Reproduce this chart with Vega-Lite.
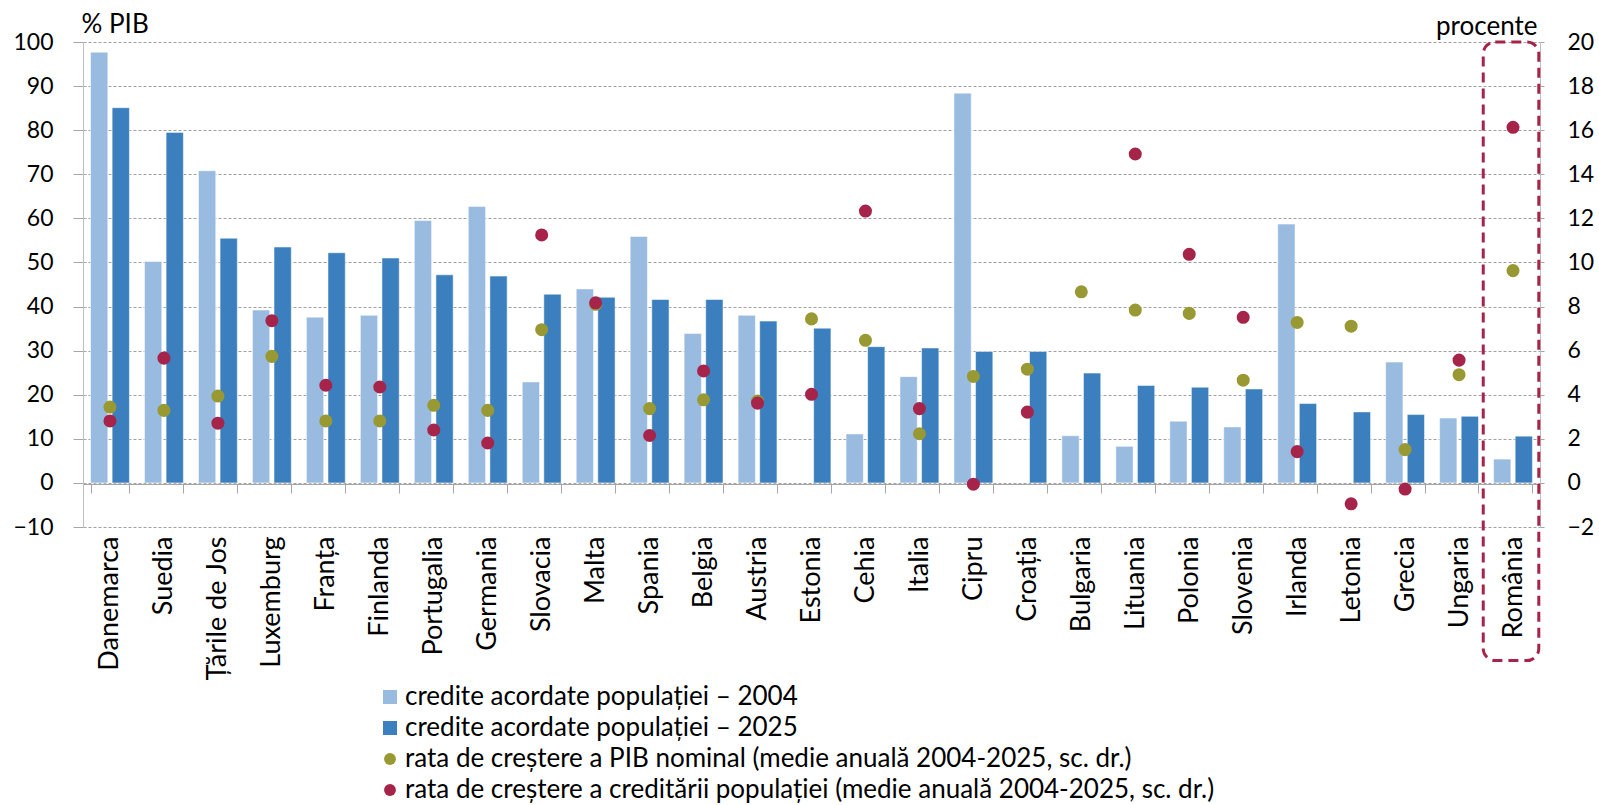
{
  "$schema": "https://vega.github.io/schema/vega-lite/v6.json",
  "autosize": "none",
  "width": 1457,
  "height": 485,
  "padding": {"left": 83, "top": 42, "right": 59, "bottom": 278},
  "config": {
    "view": {"stroke": null},
    "font": "Lato",
    "axis": {"labelFont": "Lato", "titleFont": "Lato", "labelColor": "#000000", "titleColor": "#000000", "titleFontWeight": "normal"},
    "legend": {"labelFont": "Lato", "labelColor": "#000000"}
  },
  "datasets": {
    "bars": [
      {"tara": "Danemarca", "serie": "credite acordate populației – 2004", "valoare": 97.7},
      {"tara": "Suedia", "serie": "credite acordate populației – 2004", "valoare": 50.2},
      {"tara": "Țările de Jos", "serie": "credite acordate populației – 2004", "valoare": 70.8},
      {"tara": "Luxemburg", "serie": "credite acordate populației – 2004", "valoare": 39.2},
      {"tara": "Franța", "serie": "credite acordate populației – 2004", "valoare": 37.6},
      {"tara": "Finlanda", "serie": "credite acordate populației – 2004", "valoare": 38.0},
      {"tara": "Portugalia", "serie": "credite acordate populației – 2004", "valoare": 59.5},
      {"tara": "Germania", "serie": "credite acordate populației – 2004", "valoare": 62.7},
      {"tara": "Slovacia", "serie": "credite acordate populației – 2004", "valoare": 22.9},
      {"tara": "Malta", "serie": "credite acordate populației – 2004", "valoare": 44.0},
      {"tara": "Spania", "serie": "credite acordate populației – 2004", "valoare": 55.9},
      {"tara": "Belgia", "serie": "credite acordate populației – 2004", "valoare": 33.9},
      {"tara": "Austria", "serie": "credite acordate populației – 2004", "valoare": 38.0},
      {"tara": "Cehia", "serie": "credite acordate populației – 2004", "valoare": 11.1},
      {"tara": "Italia", "serie": "credite acordate populației – 2004", "valoare": 24.1},
      {"tara": "Cipru", "serie": "credite acordate populației – 2004", "valoare": 88.4},
      {"tara": "Bulgaria", "serie": "credite acordate populației – 2004", "valoare": 10.7},
      {"tara": "Lituania", "serie": "credite acordate populației – 2004", "valoare": 8.3},
      {"tara": "Polonia", "serie": "credite acordate populației – 2004", "valoare": 14.0},
      {"tara": "Slovenia", "serie": "credite acordate populației – 2004", "valoare": 12.7},
      {"tara": "Irlanda", "serie": "credite acordate populației – 2004", "valoare": 58.7},
      {"tara": "Grecia", "serie": "credite acordate populației – 2004", "valoare": 27.4},
      {"tara": "Ungaria", "serie": "credite acordate populației – 2004", "valoare": 14.7},
      {"tara": "România", "serie": "credite acordate populației – 2004", "valoare": 5.4},
      {"tara": "Danemarca", "serie": "credite acordate populației – 2025", "valoare": 85.1},
      {"tara": "Suedia", "serie": "credite acordate populației – 2025", "valoare": 79.5},
      {"tara": "Țările de Jos", "serie": "credite acordate populației – 2025", "valoare": 55.5},
      {"tara": "Luxemburg", "serie": "credite acordate populației – 2025", "valoare": 53.5},
      {"tara": "Franța", "serie": "credite acordate populației – 2025", "valoare": 52.2},
      {"tara": "Finlanda", "serie": "credite acordate populației – 2025", "valoare": 51.0},
      {"tara": "Portugalia", "serie": "credite acordate populației – 2025", "valoare": 47.2},
      {"tara": "Germania", "serie": "credite acordate populației – 2025", "valoare": 46.9},
      {"tara": "Slovacia", "serie": "credite acordate populației – 2025", "valoare": 42.8},
      {"tara": "Malta", "serie": "credite acordate populației – 2025", "valoare": 42.1},
      {"tara": "Spania", "serie": "credite acordate populației – 2025", "valoare": 41.6},
      {"tara": "Belgia", "serie": "credite acordate populației – 2025", "valoare": 41.6},
      {"tara": "Austria", "serie": "credite acordate populației – 2025", "valoare": 36.7},
      {"tara": "Estonia", "serie": "credite acordate populației – 2025", "valoare": 35.1},
      {"tara": "Cehia", "serie": "credite acordate populației – 2025", "valoare": 30.9},
      {"tara": "Italia", "serie": "credite acordate populației – 2025", "valoare": 30.6},
      {"tara": "Cipru", "serie": "credite acordate populației – 2025", "valoare": 29.8},
      {"tara": "Croația", "serie": "credite acordate populației – 2025", "valoare": 29.8},
      {"tara": "Bulgaria", "serie": "credite acordate populației – 2025", "valoare": 24.9},
      {"tara": "Lituania", "serie": "credite acordate populației – 2025", "valoare": 22.1},
      {"tara": "Polonia", "serie": "credite acordate populației – 2025", "valoare": 21.7},
      {"tara": "Slovenia", "serie": "credite acordate populației – 2025", "valoare": 21.3},
      {"tara": "Irlanda", "serie": "credite acordate populației – 2025", "valoare": 18.0},
      {"tara": "Letonia", "serie": "credite acordate populației – 2025", "valoare": 16.1},
      {"tara": "Grecia", "serie": "credite acordate populației – 2025", "valoare": 15.5},
      {"tara": "Ungaria", "serie": "credite acordate populației – 2025", "valoare": 15.1},
      {"tara": "România", "serie": "credite acordate populației – 2025", "valoare": 10.6}
    ],
    "dots": [
      {"tara": "Danemarca", "serie": "rata de creștere a PIB nominal (medie anuală 2004-2025, sc. dr.)", "valoare": 3.44},
      {"tara": "Suedia", "serie": "rata de creștere a PIB nominal (medie anuală 2004-2025, sc. dr.)", "valoare": 3.29},
      {"tara": "Țările de Jos", "serie": "rata de creștere a PIB nominal (medie anuală 2004-2025, sc. dr.)", "valoare": 3.94},
      {"tara": "Luxemburg", "serie": "rata de creștere a PIB nominal (medie anuală 2004-2025, sc. dr.)", "valoare": 5.74},
      {"tara": "Franța", "serie": "rata de creștere a PIB nominal (medie anuală 2004-2025, sc. dr.)", "valoare": 2.81},
      {"tara": "Finlanda", "serie": "rata de creștere a PIB nominal (medie anuală 2004-2025, sc. dr.)", "valoare": 2.81},
      {"tara": "Portugalia", "serie": "rata de creștere a PIB nominal (medie anuală 2004-2025, sc. dr.)", "valoare": 3.52},
      {"tara": "Germania", "serie": "rata de creștere a PIB nominal (medie anuală 2004-2025, sc. dr.)", "valoare": 3.29},
      {"tara": "Slovacia", "serie": "rata de creștere a PIB nominal (medie anuală 2004-2025, sc. dr.)", "valoare": 6.95},
      {"tara": "Malta", "serie": "rata de creștere a PIB nominal (medie anuală 2004-2025, sc. dr.)", "valoare": 8.1},
      {"tara": "Spania", "serie": "rata de creștere a PIB nominal (medie anuală 2004-2025, sc. dr.)", "valoare": 3.37},
      {"tara": "Belgia", "serie": "rata de creștere a PIB nominal (medie anuală 2004-2025, sc. dr.)", "valoare": 3.77},
      {"tara": "Austria", "serie": "rata de creștere a PIB nominal (medie anuală 2004-2025, sc. dr.)", "valoare": 3.71},
      {"tara": "Estonia", "serie": "rata de creștere a PIB nominal (medie anuală 2004-2025, sc. dr.)", "valoare": 7.44},
      {"tara": "Cehia", "serie": "rata de creștere a PIB nominal (medie anuală 2004-2025, sc. dr.)", "valoare": 6.47},
      {"tara": "Italia", "serie": "rata de creștere a PIB nominal (medie anuală 2004-2025, sc. dr.)", "valoare": 2.23},
      {"tara": "Cipru", "serie": "rata de creștere a PIB nominal (medie anuală 2004-2025, sc. dr.)", "valoare": 4.83},
      {"tara": "Croația", "serie": "rata de creștere a PIB nominal (medie anuală 2004-2025, sc. dr.)", "valoare": 5.16},
      {"tara": "Bulgaria", "serie": "rata de creștere a PIB nominal (medie anuală 2004-2025, sc. dr.)", "valoare": 8.67},
      {"tara": "Lituania", "serie": "rata de creștere a PIB nominal (medie anuală 2004-2025, sc. dr.)", "valoare": 7.84},
      {"tara": "Polonia", "serie": "rata de creștere a PIB nominal (medie anuală 2004-2025, sc. dr.)", "valoare": 7.69},
      {"tara": "Slovenia", "serie": "rata de creștere a PIB nominal (medie anuală 2004-2025, sc. dr.)", "valoare": 4.66},
      {"tara": "Irlanda", "serie": "rata de creștere a PIB nominal (medie anuală 2004-2025, sc. dr.)", "valoare": 7.28},
      {"tara": "Letonia", "serie": "rata de creștere a PIB nominal (medie anuală 2004-2025, sc. dr.)", "valoare": 7.11},
      {"tara": "Grecia", "serie": "rata de creștere a PIB nominal (medie anuală 2004-2025, sc. dr.)", "valoare": 1.51},
      {"tara": "Ungaria", "serie": "rata de creștere a PIB nominal (medie anuală 2004-2025, sc. dr.)", "valoare": 4.91},
      {"tara": "România", "serie": "rata de creștere a PIB nominal (medie anuală 2004-2025, sc. dr.)", "valoare": 9.63},
      {"tara": "Danemarca", "serie": "rata de creștere a creditării populației (medie anuală 2004-2025, sc. dr.)", "valoare": 2.81},
      {"tara": "Suedia", "serie": "rata de creștere a creditării populației (medie anuală 2004-2025, sc. dr.)", "valoare": 5.66},
      {"tara": "Țările de Jos", "serie": "rata de creștere a creditării populației (medie anuală 2004-2025, sc. dr.)", "valoare": 2.71},
      {"tara": "Luxemburg", "serie": "rata de creștere a creditării populației (medie anuală 2004-2025, sc. dr.)", "valoare": 7.36},
      {"tara": "Franța", "serie": "rata de creștere a creditării populației (medie anuală 2004-2025, sc. dr.)", "valoare": 4.43},
      {"tara": "Finlanda", "serie": "rata de creștere a creditării populației (medie anuală 2004-2025, sc. dr.)", "valoare": 4.35},
      {"tara": "Portugalia", "serie": "rata de creștere a creditării populației (medie anuală 2004-2025, sc. dr.)", "valoare": 2.40},
      {"tara": "Germania", "serie": "rata de creștere a creditării populației (medie anuală 2004-2025, sc. dr.)", "valoare": 1.81},
      {"tara": "Slovacia", "serie": "rata de creștere a creditării populației (medie anuală 2004-2025, sc. dr.)", "valoare": 11.25},
      {"tara": "Malta", "serie": "rata de creștere a creditării populației (medie anuală 2004-2025, sc. dr.)", "valoare": 8.17},
      {"tara": "Spania", "serie": "rata de creștere a creditării populației (medie anuală 2004-2025, sc. dr.)", "valoare": 2.15},
      {"tara": "Belgia", "serie": "rata de creștere a creditării populației (medie anuală 2004-2025, sc. dr.)", "valoare": 5.08},
      {"tara": "Austria", "serie": "rata de creștere a creditării populației (medie anuală 2004-2025, sc. dr.)", "valoare": 3.62},
      {"tara": "Estonia", "serie": "rata de creștere a creditării populației (medie anuală 2004-2025, sc. dr.)", "valoare": 4.02},
      {"tara": "Cehia", "serie": "rata de creștere a creditării populației (medie anuală 2004-2025, sc. dr.)", "valoare": 12.33},
      {"tara": "Italia", "serie": "rata de creștere a creditării populației (medie anuală 2004-2025, sc. dr.)", "valoare": 3.37},
      {"tara": "Cipru", "serie": "rata de creștere a creditării populației (medie anuală 2004-2025, sc. dr.)", "valoare": -0.06},
      {"tara": "Croația", "serie": "rata de creștere a creditării populației (medie anuală 2004-2025, sc. dr.)", "valoare": 3.21},
      {"tara": "Lituania", "serie": "rata de creștere a creditării populației (medie anuală 2004-2025, sc. dr.)", "valoare": 14.92},
      {"tara": "Polonia", "serie": "rata de creștere a creditării populației (medie anuală 2004-2025, sc. dr.)", "valoare": 10.37},
      {"tara": "Slovenia", "serie": "rata de creștere a creditării populației (medie anuală 2004-2025, sc. dr.)", "valoare": 7.51},
      {"tara": "Irlanda", "serie": "rata de creștere a creditării populației (medie anuală 2004-2025, sc. dr.)", "valoare": 1.42},
      {"tara": "Letonia", "serie": "rata de creștere a creditării populației (medie anuală 2004-2025, sc. dr.)", "valoare": -0.95},
      {"tara": "Grecia", "serie": "rata de creștere a creditării populației (medie anuală 2004-2025, sc. dr.)", "valoare": -0.28},
      {"tara": "Ungaria", "serie": "rata de creștere a creditării populației (medie anuală 2004-2025, sc. dr.)", "valoare": 5.57},
      {"tara": "România", "serie": "rata de creștere a creditării populației (medie anuală 2004-2025, sc. dr.)", "valoare": 16.13}
    ],
    "box": [{"tara": "România"}]
  },
  "encoding": {
    "x": {
      "field": "tara", "type": "nominal",
      "scale": {
        "domain": ["Danemarca", "Suedia", "Țările de Jos", "Luxemburg", "Franța", "Finlanda", "Portugalia", "Germania", "Slovacia", "Malta", "Spania", "Belgia", "Austria", "Estonia", "Cehia", "Italia", "Cipru", "Croația", "Bulgaria", "Lituania", "Polonia", "Slovenia", "Irlanda", "Letonia", "Grecia", "Ungaria", "România"],
        "paddingInner": 0.28, "paddingOuter": 0.14
      },
      "axis": {
        "title": null,
        "offset": -43,
        "labelAngle": -90,
        "labelAlign": "right",
        "labelBaseline": "middle",
        "labelFontSize": 27,
        "labelPadding": 43,
        "tickBand": "extent",
        "tickSize": 9,
        "tickColor": "#A6A6A6",
        "domainColor": "#A6A6A6",
        "grid": false
      }
    }
  },
  "layer": [
    {
      "layer": [
        {
          "data": {"name": "bars"},
          "mark": {"type": "bar", "stroke": "#FFFFFF", "strokeOpacity": 0.5, "strokeWidth": 1},
          "encoding": {
            "xOffset": {"field": "serie", "type": "nominal", "scale": {"paddingInner": 0.2, "paddingOuter": 0}},
            "y": {
              "field": "valoare", "type": "quantitative",
              "scale": {"domain": [-10, 100], "nice": false, "zero": false},
              "axis": {
                "title": "% PIB", "titleAngle": 0, "titleAlign": "left", "titleBaseline": "alphabetic",
                "titleX": -2, "titleY": -10, "titleFontSize": 26,
                "values": [-10, 0, 10, 20, 30, 40, 50, 60, 70, 80, 90, 100],
                "labelFontSize": 23, "labelPadding": 20, "tickSize": 10,
                "tickColor": "#A6A6A6", "domainColor": "#BFBFBF",
                "grid": true, "gridColor": "#A0A0A0", "gridDash": [3, 2], "gridWidth": 1
              }
            },
            "color": {
              "field": "serie", "type": "nominal",
              "scale": {"domain": ["credite acordate populației – 2004", "credite acordate populației – 2025"], "range": ["#99BBDF", "#3B7FBE"]},
              "legend": {
                "title": null, "orient": "none", "legendX": 294, "legendY": 642,
                "symbolType": "square", "symbolSize": 196, "symbolStrokeWidth": 0,
                "labelFontSize": 26, "rowPadding": 5, "labelOffset": 2, "labelLimit": 1200, "padding": 0
              }
            }
          }
        },
        {
          "data": {"name": "box"},
          "mark": {"type": "rect", "fill": null, "filled": false, "stroke": "#A6244A", "strokeWidth": 3, "strokeDash": [10, 6], "cornerRadius": 12, "clip": false, "width": {"band": 1.43}, "xOffset": -2},
          "encoding": {
            "y": {"datum": 100, "type": "quantitative"},
            "y2": {"datum": -40.3}
          }
        }
      ]
    },
    {
      "data": {"name": "dots"},
      "mark": {"type": "circle", "size": 170, "opacity": 1},
      "encoding": {
        "y": {
          "field": "valoare", "type": "quantitative",
          "scale": {"domain": [-2, 20], "nice": false, "zero": false},
          "axis": {
            "orient": "right",
            "title": "procente", "titleAngle": 0, "titleAlign": "right", "titleBaseline": "alphabetic",
            "titleX": -3, "titleY": -8, "titleFontSize": 26,
            "values": [-2, 0, 2, 4, 6, 8, 10, 12, 14, 16, 18, 20],
            "labelFontSize": 23, "labelPadding": 23, "tickSize": 4,
            "tickColor": "#A6A6A6", "domainColor": "#BFBFBF", "grid": false
          }
        },
        "color": {
          "field": "serie", "type": "nominal",
          "scale": {"domain": ["rata de creștere a PIB nominal (medie anuală 2004-2025, sc. dr.)", "rata de creștere a creditării populației (medie anuală 2004-2025, sc. dr.)"], "range": ["#999933", "#A6244A"]},
          "legend": {
            "title": null, "orient": "none", "legendX": 294, "legendY": 704,
            "symbolType": "circle", "symbolSize": 140, "symbolStrokeWidth": 0,
            "labelFontSize": 26, "rowPadding": 5, "labelOffset": 2, "labelLimit": 1200, "padding": 0
          }
        }
      }
    }
  ],
  "resolve": {"scale": {"y": "independent", "color": "independent"}}
}
